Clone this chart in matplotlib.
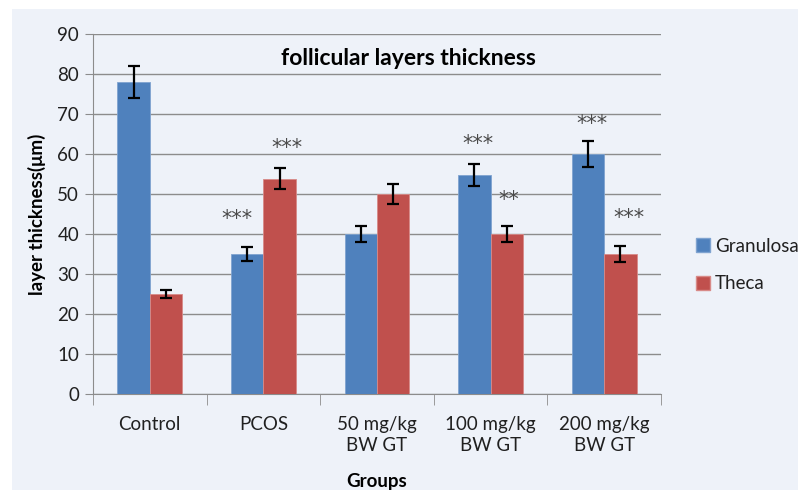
import matplotlib
matplotlib.use("Agg")
import matplotlib.pyplot as plt
import numpy as np
from matplotlib.patches import Patch, Rectangle

plt.rcParams['font.family'] = ['Lato', 'DejaVu Sans']

categories = ["Control", "PCOS", "50 mg/kg\nBW GT", "100 mg/kg\nBW GT", "200 mg/kg\nBW GT"]
granulosa = [78, 35, 40, 54.8, 60]
granulosa_err = [4, 1.8, 2, 2.8, 3.2]
theca = [25, 53.8, 50, 40, 35]
theca_err = [1, 2.6, 2.6, 2, 1.9]
series_names = ["Granulosa", "Theca"]

# significance labels: (category index, series index, label)
sig_labels = [(1, 0, "***"), (1, 1, "***"), (3, 0, "***"), (3, 1, "**"), (4, 0, "***"), (4, 1, "***")]
sig_offsets = {(1, 0): (-0.23, 43.8), (1, 1): (0.21, 61.6), (3, 0): (-0.11, 62.5),
               (3, 1): (0.16, 48.5), (4, 0): (-0.11, 67.5), (4, 1): (0.22, 44.0)}

blue = "#4F81BD"
red = "#C0504D"
bg = "#EEF2F9"

fig = plt.figure(figsize=(7.98, 4.90), dpi=100)
fig.patch.set_facecolor("white")
fig.patches.append(Rectangle((12/798, 0), 1 - 12/798, 1 - 9/490, transform=fig.transFigure,
                             facecolor=bg, edgecolor="none", zorder=-10))
ax = fig.add_axes([93/798, 1 - 394/490, (661-93)/798, (394-34)/490])
ax.set_facecolor(bg)

x = np.arange(len(categories))
w = 0.286
ekw = dict(ecolor="black", elinewidth=1.6, capthick=1.6)
ax.bar(x - w/2, granulosa, w, color=blue, edgecolor="#7FA3D0", linewidth=0.6, zorder=3,
       yerr=granulosa_err, capsize=4, error_kw=ekw)
ax.bar(x + w/2, theca, w, color=red, edgecolor="#D88A88", linewidth=0.6, zorder=3,
       yerr=theca_err, capsize=4, error_kw=ekw)

for ci, si, lab in sig_labels:
    dx, yy = sig_offsets[(ci, si)]
    ax.text(ci + dx, yy, lab, ha="center", va="center", fontsize=15, color="#4A4A4A",
            family="DejaVu Sans", zorder=4)

ax.set_xlim(-0.5, len(categories) - 0.5)
ax.set_ylim(0, 90)
ax.set_yticks(np.arange(0, 91, 10))
ax.yaxis.grid(True, color="#8C8C8C", linewidth=1, zorder=0)
ax.set_axisbelow(True)
ax.set_xticks(x)
ax.set_xticklabels(categories, fontsize=13.5, color="#202020", linespacing=1.25)
ax.set_xticks(np.arange(-0.5, len(categories), 1), minor=True)
ax.tick_params(axis="x", which="major", length=0, pad=16)
ax.tick_params(axis="x", which="minor", length=8, color="#8C8C8C")
ax.tick_params(axis="y", length=6, color="#8C8C8C", labelsize=13.5, labelcolor="#202020", pad=4)
for s in ["top", "right"]:
    ax.spines[s].set_visible(False)
for s in ["left", "bottom"]:
    ax.spines[s].set_color("#8C8C8C")

ax.set_title("follicular layers thickness", fontsize=16.5, fontweight="bold", y=0.89, x=0.555)
ax.set_ylabel("layer thickness(μm)", fontsize=13.5, fontweight="bold", labelpad=8)
fig.text(0.472, 1 - 481/490, "Groups", ha="center", va="center", fontsize=13.5, fontweight="bold")

handles = [Patch(facecolor=blue, edgecolor="#7FA3D0"), Patch(facecolor=red, edgecolor="#D88A88")]
fig.legend(handles, series_names, loc="center left", bbox_to_anchor=(696/798, 1 - 265/490),
           frameon=False, fontsize=13.5, handlelength=0.75, handleheight=0.75, handletextpad=0.25,
           labelspacing=1.1, labelcolor="#202020", borderpad=0, borderaxespad=0)

fig.savefig("out.png", dpi=100, facecolor=fig.get_facecolor())
